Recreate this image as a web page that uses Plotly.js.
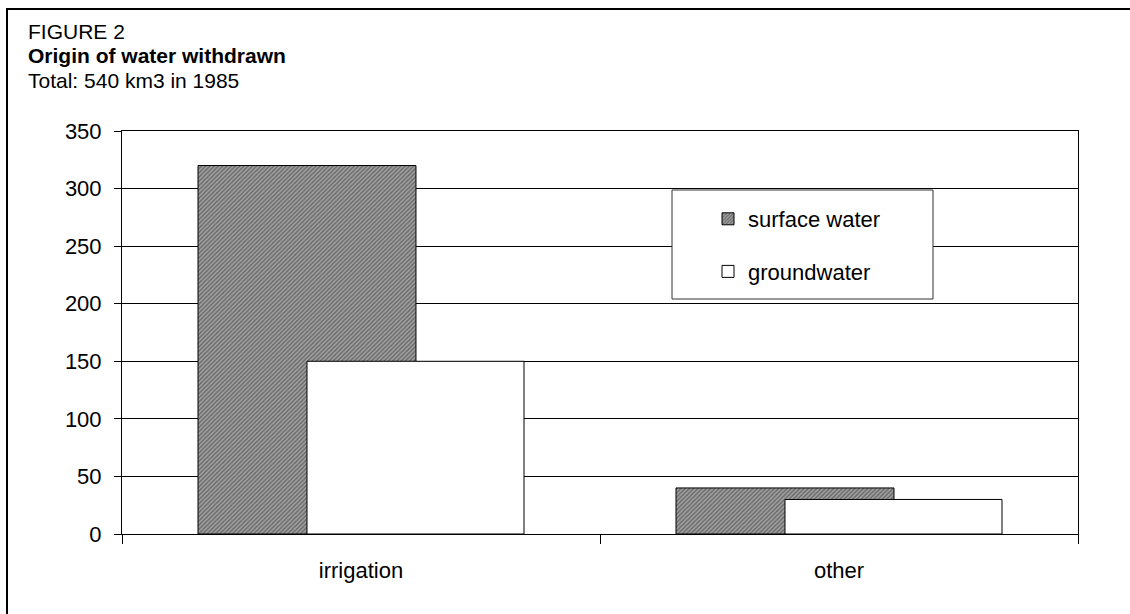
<!DOCTYPE html>
<html>
<head>
<meta charset="utf-8">
<script src="https://cdn.plot.ly/plotly-3.0.1.min.js"></script>
<style>html,body{margin:0;padding:0;background:#fff;}#chart{width:1130px;height:614px;}</style>
</head>
<body>
<div id="chart"></div>
<script>
var categories = ['irrigation', 'other'];
var surfaceWater = [320, 40];
var groundwater = [150, 30];
var seriesNames = ['surface water', 'groundwater'];
var yTicks = [0, 50, 100, 150, 200, 250, 300, 350];
var titleLines = ['FIGURE 2', '<b>Origin of water withdrawn</b>', 'Total: 540 km3 in 1985'];

var W = 1130, H = 614;
var L = 122, R = 1078, T = 131, B = 534;
function px(x) { return (x - L) / (R - L); }
function py(y) { return (B - y) / (B - T); }

var font = 'Liberation Sans, Arial, sans-serif';

var traces = [
  {
    type: 'bar', name: seriesNames[0], x: categories, y: surfaceWater,
    offset: -0.341, width: 0.456, legendgroup: 'a',
    marker: {
      color: '#9a9a9a',
      line: {color: '#000', width: 1},
      pattern: {shape: '/', fgcolor: '#6a6a6a', bgcolor: '#a4a4a4', size: 3, solidity: 0.5}
    },
    hoverinfo: 'x+y'
  },
  {
    type: 'bar', name: seriesNames[1], x: categories, y: groundwater,
    offset: -0.113, width: 0.454, legendgroup: 'b',
    marker: {color: '#ffffff', line: {color: '#000', width: 1}},
    hoverinfo: 'x+y'
  }
];

var annotations = titleLines.map(function (t, i) {
  return {xref: 'paper', yref: 'paper', x: px(26), y: py(31 + 25 * i),
    xanchor: 'left', yanchor: 'middle', align: 'left', showarrow: false,
    text: t, font: {family: font, size: 21, color: '#000'}};
});

var layout = {
  width: W, height: H,
  margin: {l: L, r: W - R, t: T, b: H - B, pad: 0},
  paper_bgcolor: '#fff', plot_bgcolor: '#fff',
  barmode: 'overlay',
  font: {family: font, color: '#000', size: 22},
  xaxis: {
    type: 'category', categoryorder: 'array', categoryarray: categories,
    range: [-0.5, 1.5], tickson: 'boundaries', ticks: 'outside', ticklen: 9,
    tickcolor: '#000', tickwidth: 1, showgrid: false, showline: true,
    linecolor: '#000', linewidth: 1, mirror: true, zeroline: false,
    tickfont: {family: font, size: 22, color: '#000'}, ticklabelstandoff: 17, fixedrange: true
  },
  yaxis: {
    range: [0, 350], tickvals: yTicks, ticktext: yTicks.map(String),
    ticks: 'outside', ticklen: 7, tickcolor: '#000', tickwidth: 1,
    showgrid: true, gridcolor: '#000', gridwidth: 1, showline: true,
    linecolor: '#000', linewidth: 1, mirror: true, zeroline: false,
    tickfont: {family: font, size: 22, color: '#000'}, ticklabelstandoff: 8, fixedrange: true
  },
  showlegend: true,
  legend: {
    x: px(708), y: py(198), xanchor: 'left', yanchor: 'top',
    bgcolor: 'rgba(0,0,0,0)', borderwidth: 0,
    traceorder: 'grouped', tracegroupgap: 21,
    font: {family: font, size: 22, color: '#000'}
  },
  shapes: [
    {type: 'rect', xref: 'paper', yref: 'paper', layer: 'above',
     x0: px(672), x1: px(933), y0: py(299), y1: py(190),
     line: {color: '#333', width: 1}, fillcolor: '#fff'},
    {type: 'rect', xref: 'paper', yref: 'paper', layer: 'above',
     x0: px(7), x1: px(1145), y0: py(625), y1: py(9),
     line: {color: '#000', width: 2}, fillcolor: 'rgba(0,0,0,0)'}
  ],
  annotations: annotations
};

Plotly.newPlot('chart', traces, layout, {displayModeBar: false, staticPlot: true});
</script>
</body>
</html>
